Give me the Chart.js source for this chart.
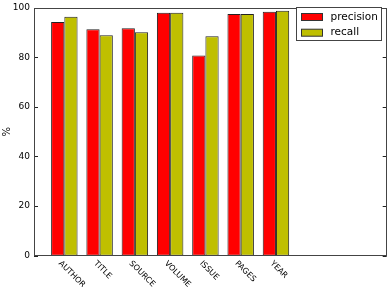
<!DOCTYPE html>
<html>
<head>
<meta charset="utf-8">
<script src="https://cdn.jsdelivr.net/npm/chart.js@4/dist/chart.umd.min.js"></script>
<style>
html,body{margin:0;padding:0;background:#fff;}
#wrap{width:388px;height:287px;position:relative;}
</style>
</head>
<body>
<div id="wrap"><canvas id="c" width="388" height="287"></canvas></div>
<script>
const categories = ['AUTHOR', 'TITLE', 'SOURCE', 'VOLUME', 'ISSUE', 'PAGES', 'YEAR'];
const precision = [94.2, 91.3, 91.7, 97.9, 80.7, 97.4, 98.3];
const recall = [96.3, 88.9, 90.1, 97.9, 88.5, 97.4, 98.7];
const yTicks = [0, 20, 40, 60, 80, 100];

const FONT = "'DejaVu Sans', sans-serif";

const decor = {
  id: 'decor',
  afterDatasetsDraw(chart) {
    const ctx = chart.ctx;
    const a = chart.chartArea;
    const xs = chart.scales.x, ys = chart.scales.y;
    ctx.save();
    // inward y tick marks
    ctx.strokeStyle = '#222';
    ctx.lineWidth = 1;
    yTicks.forEach(v => {
      const y = Math.round(ys.getPixelForValue(v)) + 0.5;
      ctx.beginPath();
      ctx.moveTo(a.left, y); ctx.lineTo(a.left + 4, y);
      ctx.moveTo(a.right, y); ctx.lineTo(a.right - 4, y);
      ctx.stroke();
    });
    // frame
    ctx.strokeStyle = '#444';
    ctx.strokeRect(Math.round(a.left) + 0.5, Math.round(a.top) + 0.5,
      Math.round(a.right - a.left) - 1, Math.round(a.bottom - a.top) - 1);
    // rotated category labels
    ctx.fillStyle = '#000';
    ctx.font = '8px ' + FONT;
    ctx.textAlign = 'left';
    ctx.textBaseline = 'alphabetic';
    categories.forEach((c, i) => {
      const x = xs.getPixelForValue(i);
      ctx.save();
      ctx.translate(x - 6, a.bottom + 8);
      ctx.rotate(Math.PI / 4);
      ctx.fillText(c, 0, 0);
      ctx.restore();
    });
    // legend
    const lx = 296.5, ly = 7.5, lw = 85, lh = 33;
    ctx.fillStyle = '#fff';
    ctx.fillRect(lx, ly, lw, lh);
    ctx.strokeStyle = '#444';
    ctx.strokeRect(lx, ly, lw, lh);
    ctx.font = '10.5px ' + FONT;
    ctx.textBaseline = 'middle';
    chart.data.datasets.forEach((ds, i) => {
      const py = 13.5 + i * 15.7;
      ctx.fillStyle = ds.backgroundColor;
      ctx.fillRect(301.5, py, 21, 7);
      ctx.strokeStyle = '#333';
      ctx.strokeRect(301.5, py, 21, 7);
      ctx.fillStyle = '#000';
      ctx.fillText(ds.label, 330.5, py + 3.5);
    });
    ctx.restore();
  }
};

new Chart(document.getElementById('c'), {
  type: 'bar',
  data: {
    datasets: [
      { label: 'precision', data: precision.map((v, i) => ({ x: i, y: v })),
        backgroundColor: '#ff0000', borderColor: '#222', borderWidth: 1, borderSkipped: false },
      { label: 'recall', data: recall.map((v, i) => ({ x: i, y: v })),
        backgroundColor: '#bfbf00', borderColor: '#222', borderWidth: 1, borderSkipped: false }
    ]
  },
  options: {
    responsive: false,
    animation: false,
    devicePixelRatio: 1,
    categoryPercentage: 0.75,
    barPercentage: 1.0,
    layout: { padding: { left: 0, right: 1.3, top: 3.7, bottom: 31.3 } },
    plugins: { legend: { display: false }, tooltip: { enabled: false } },
    scales: {
      x: {
        type: 'linear',
        display: false,
        min: -0.86,
        max: 9.14,
        offset: false
      },
      y: {
        min: 0, max: 100,
        afterFit: s => { s.width = 34; },
        grid: { display: false, drawTicks: false },
        border: { display: false },
        ticks: { stepSize: 20, padding: 4, color: '#000',
          font: { family: FONT, size: 9, lineHeight: 0.8 } },
        title: { display: true, text: '%', color: '#000',
          font: { family: FONT, size: 10, lineHeight: 1.2 },
          padding: { top: 1, bottom: 0 } }
      }
    }
  },
  plugins: [decor]
});
</script>
</body>
</html>
